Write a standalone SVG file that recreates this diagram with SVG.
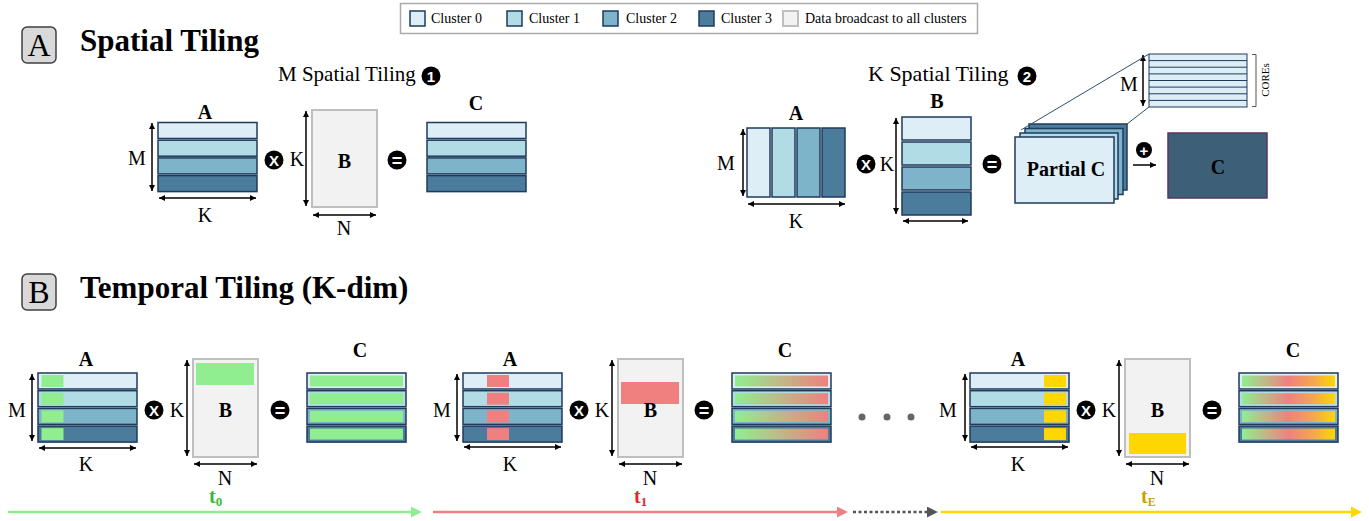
<svg xmlns="http://www.w3.org/2000/svg" width="1369" height="521" viewBox="0 0 1369 521">
<style>
text{font-family:"Liberation Serif","Times New Roman",serif;fill:#000}
.c0{fill:#deeef6}.c1{fill:#b1dbe5}.c2{fill:#7db4ca}.c3{fill:#4c7c9c}
.m{stroke:#1f3a5c;stroke-width:1.5}
.bc{fill:#f2f2f2;stroke:#bfbfbf;stroke-width:2}
.dim{stroke:#000;stroke-width:1.5;fill:none;marker-start:url(#ah);marker-end:url(#ah)}
.lbl{font-weight:bold;font-size:20px;text-anchor:middle}
.dl{font-size:20px;text-anchor:middle}
.leg{font-size:14px}
.ttl{font-weight:bold;font-size:31px}
.ico{font-family:"Liberation Sans",Arial,sans-serif;font-weight:bold;fill:#fff;text-anchor:middle}
.grn{fill:#90ee90}.red{fill:#f08080}.yel{fill:#ffd700}
</style>
<defs>
<marker id="ah" viewBox="0 0 10 10" refX="10" refY="5" markerWidth="7" markerHeight="6" markerUnits="userSpaceOnUse" orient="auto-start-reverse"><path d="M0,0 L10,5 L0,10 z" fill="#000"/></marker>
<marker id="hg" viewBox="0 0 10 10" refX="1" refY="5" markerWidth="11" markerHeight="11" markerUnits="userSpaceOnUse" orient="auto"><path d="M0,0 L10,5 L0,10 z" fill="#90ee90"/></marker>
<marker id="hr" viewBox="0 0 10 10" refX="1" refY="5" markerWidth="11" markerHeight="11" markerUnits="userSpaceOnUse" orient="auto"><path d="M0,0 L10,5 L0,10 z" fill="#f08080"/></marker>
<marker id="hk" viewBox="0 0 10 10" refX="1" refY="5" markerWidth="11" markerHeight="11" markerUnits="userSpaceOnUse" orient="auto"><path d="M0,0 L10,5 L0,10 z" fill="#555"/></marker>
<marker id="hy" viewBox="0 0 10 10" refX="1" refY="5" markerWidth="11" markerHeight="11" markerUnits="userSpaceOnUse" orient="auto"><path d="M0,0 L10,5 L0,10 z" fill="#ffd700"/></marker>
<marker id="hs" viewBox="0 0 10 10" refX="10" refY="5" markerWidth="7" markerHeight="6" markerUnits="userSpaceOnUse" orient="auto"><path d="M0,0 L10,5 L0,10 z" fill="#000"/></marker>
<linearGradient id="g2" x1="0" y1="0" x2="1" y2="0"><stop offset="0" stop-color="#90ee90"/><stop offset="1" stop-color="#f08080"/></linearGradient>
<linearGradient id="g3" x1="0" y1="0" x2="1" y2="0"><stop offset="0" stop-color="#90ee90"/><stop offset="0.5" stop-color="#f08080"/><stop offset="0.78" stop-color="#f6a84c"/><stop offset="1" stop-color="#ffd700"/></linearGradient>
</defs>
<rect width="1369" height="521" fill="#fff"/>

<!-- Legend -->
<g id="legend">
<rect x="400.5" y="3.5" width="577" height="30" fill="#fff" stroke="#aaa" stroke-width="1.5"/>
<rect x="410" y="11" width="15" height="15" class="c0 m"/><text x="431" y="23" class="leg">Cluster 0</text>
<rect x="507" y="11" width="15" height="15" class="c1 m"/><text x="529" y="23" class="leg">Cluster 1</text>
<rect x="603" y="11" width="15" height="15" class="c2 m"/><text x="626" y="23" class="leg">Cluster 2</text>
<rect x="699" y="11" width="15" height="15" class="c3 m"/><text x="721" y="23" class="leg">Cluster 3</text>
<rect x="783" y="11" width="15" height="15" class="bc" stroke-width="1.2"/><text x="805" y="23" class="leg">Data broadcast to all clusters</text>
</g>

<!-- Section A header -->
<g id="hdrA">
<rect x="22" y="27" width="34" height="36" rx="5" fill="#d9d9d9" stroke="#404040" stroke-width="1.5"/>
<text x="39" y="56" font-size="32" text-anchor="middle">A</text>
<text x="80" y="51" class="ttl">Spatial Tiling</text>
</g>

<!-- M spatial tiling -->
<g id="mTitle">
<text x="278" y="81" font-size="21">M Spatial Tiling</text>
<circle cx="431" cy="76" r="9.5"/><text x="431" y="81.5" class="ico" font-size="15">1</text>
</g>
<g id="mA">
<text x="205" y="119" class="lbl">A</text>
<rect x="158" y="122.5" width="99" height="16" class="c0 m"/>
<rect x="158" y="140.2" width="99" height="16" class="c1 m"/>
<rect x="158" y="157.9" width="99" height="16" class="c2 m"/>
<rect x="158" y="175.6" width="99" height="16" class="c3 m"/>
<text x="137" y="165" class="dl">M</text>
<text x="205" y="222" class="dl">K</text>
</g>
<g id="mX"><circle cx="274" cy="160" r="9.5"/><text x="274" y="165.5" class="ico" font-size="15">X</text></g>
<g id="mB">
<rect x="312" y="110" width="65" height="97" class="bc"/>
<text x="344.5" y="168" class="lbl">B</text>
<text x="297" y="166" class="dl">K</text>
<text x="344" y="235" class="dl">N</text>
</g>
<g id="mEq"><circle cx="397" cy="160" r="9.5"/><text x="397" y="166.5" class="ico" font-size="18">=</text></g>
<g id="mC">
<text x="476" y="110" class="lbl">C</text>
<rect x="427" y="122.5" width="99" height="16" class="c0 m"/>
<rect x="427" y="140.2" width="99" height="16" class="c1 m"/>
<rect x="427" y="157.9" width="99" height="16" class="c2 m"/>
<rect x="427" y="175.6" width="99" height="16" class="c3 m"/>
</g>

<!-- K spatial tiling -->
<g id="kTitle">
<text x="868" y="81" font-size="22">K Spatial Tiling</text>
<circle cx="1027" cy="76" r="9.5"/><text x="1027" y="81.5" class="ico" font-size="15">2</text>
</g>
<g id="kA">
<text x="796" y="120" class="lbl">A</text>
<rect x="747" y="128" width="23" height="69" class="c0 m"/>
<rect x="772" y="128" width="23" height="69" class="c1 m"/>
<rect x="797" y="128" width="23" height="69" class="c2 m"/>
<rect x="822" y="128" width="23" height="69" class="c3 m"/>
<text x="726" y="170" class="dl">M</text>
<text x="796" y="228" class="dl">K</text>
</g>
<g id="kX"><circle cx="866" cy="164" r="9.5"/><text x="866" y="169.5" class="ico" font-size="15">X</text></g>
<g id="kB">
<text x="937" y="108" class="lbl">B</text>
<rect x="902" y="117" width="69" height="23" class="c0 m"/>
<rect x="902" y="142" width="69" height="23" class="c1 m"/>
<rect x="902" y="167" width="69" height="23" class="c2 m"/>
<rect x="902" y="192" width="69" height="23" class="c3 m"/>
<text x="887" y="171" class="dl">K</text>
</g>
<g id="kEq"><circle cx="992" cy="164" r="9.5"/><text x="992" y="170.5" class="ico" font-size="18">=</text></g>
<g id="kPartial">
<rect x="1029" y="124" width="98" height="66" class="c3 m"/>
<rect x="1025" y="128.5" width="98" height="66" class="c2 m"/>
<rect x="1020" y="133" width="98" height="66" class="c1 m"/>
<rect x="1015" y="137" width="99" height="66" class="c0 m"/>
<text x="1066" y="176" class="lbl">Partial C</text>
</g>
<g id="kCores">
<rect x="1149" y="54" width="98" height="53" class="c0" stroke="#1f3a5c" stroke-width="1"/>
<path d="M1149,60.6H1247M1149,67.2H1247M1149,73.9H1247M1149,80.5H1247M1149,87.1H1247M1149,93.8H1247M1149,100.4H1247" stroke="#1f3a5c" stroke-width="1"/>
<text x="1129" y="91" class="dl">M</text>
<path d="M1252,54.5H1256V106.5H1252" fill="none" stroke="#555" stroke-width="1"/>
<text transform="translate(1269,80) rotate(-90)" font-size="11" text-anchor="middle">COREs</text>
</g>
<g id="kPlus"><circle cx="1144" cy="150" r="8"/><text x="1144" y="155.5" class="ico" font-size="15">+</text></g>
<g id="kC">
<rect x="1168" y="133" width="99" height="65" fill="#3d5f78" stroke="#5a3560" stroke-width="1.5"/>
<text x="1218" y="174" class="lbl">C</text>
</g>

<!-- Section B header -->
<g id="hdrB">
<rect x="22" y="274" width="34" height="36" rx="5" fill="#d9d9d9" stroke="#404040" stroke-width="1.5"/>
<text x="39" y="303" font-size="32" text-anchor="middle">B</text>
<text x="80" y="298" class="ttl">Temporal Tiling (K-dim)</text>
</g>

<!-- t0 -->
<g id="t0A">
<text x="86" y="366" class="lbl">A</text>
<rect x="38" y="373" width="99" height="16" class="c0 m"/>
<rect x="38" y="390.7" width="99" height="16" class="c1 m"/>
<rect x="38" y="408.4" width="99" height="16" class="c2 m"/>
<rect x="38" y="426.1" width="99" height="16" class="c3 m"/>
<rect x="41.5" y="375" width="22" height="12" class="grn"/>
<rect x="41.5" y="392.7" width="22" height="12" class="grn"/>
<rect x="41.5" y="410.4" width="22" height="12" class="grn"/>
<rect x="41.5" y="428.1" width="22" height="12" class="grn"/>
<text x="17" y="417" class="dl">M</text>
<text x="86" y="471" class="dl">K</text>
</g>
<g id="t0X"><circle cx="154" cy="410" r="9.5"/><text x="154" y="415.5" class="ico" font-size="15">X</text></g>
<g id="t0B">
<rect x="193" y="359" width="65" height="98" class="bc"/>
<rect x="196" y="363" width="58" height="22" class="grn"/>
<text x="225.5" y="417" class="lbl">B</text>
<text x="177" y="417" class="dl">K</text>
<text x="225" y="485" class="dl">N</text>
</g>
<g id="t0Eq"><circle cx="280" cy="410" r="9.5"/><text x="280" y="416.5" class="ico" font-size="18">=</text></g>
<g id="t0C">
<text x="360" y="357" class="lbl">C</text>
<rect x="307" y="373" width="99" height="16" class="c0 m"/>
<rect x="307" y="390.7" width="99" height="16" class="c1 m"/>
<rect x="307" y="408.4" width="99" height="16" class="c2 m"/>
<rect x="307" y="426.1" width="99" height="16" class="c3 m"/>
<rect x="310" y="375.5" width="93" height="11" class="grn"/>
<rect x="310" y="393.2" width="93" height="11" class="grn"/>
<rect x="310" y="410.9" width="93" height="11" class="grn"/>
<rect x="310" y="428.6" width="93" height="11" class="grn"/>
</g>

<!-- t1 -->
<g id="t1A">
<text x="510" y="366" class="lbl">A</text>
<rect x="463" y="373" width="99" height="16" class="c0 m"/>
<rect x="463" y="390.7" width="99" height="16" class="c1 m"/>
<rect x="463" y="408.4" width="99" height="16" class="c2 m"/>
<rect x="463" y="426.1" width="99" height="16" class="c3 m"/>
<rect x="487" y="375" width="22" height="12" class="red"/>
<rect x="487" y="392.7" width="22" height="12" class="red"/>
<rect x="487" y="410.4" width="22" height="12" class="red"/>
<rect x="487" y="428.1" width="22" height="12" class="red"/>
<text x="442" y="417" class="dl">M</text>
<text x="510" y="471" class="dl">K</text>
</g>
<g id="t1X"><circle cx="579" cy="410" r="9.5"/><text x="579" y="415.5" class="ico" font-size="15">X</text></g>
<g id="t1B">
<rect x="618" y="359" width="65" height="98" class="bc"/>
<rect x="621" y="382" width="58" height="22" class="red"/>
<text x="650.5" y="417" class="lbl">B</text>
<text x="602" y="417" class="dl">K</text>
<text x="650" y="485" class="dl">N</text>
</g>
<g id="t1Eq"><circle cx="704" cy="410" r="9.5"/><text x="704" y="416.5" class="ico" font-size="18">=</text></g>
<g id="t1C">
<text x="785" y="357" class="lbl">C</text>
<rect x="732" y="373" width="99" height="16" class="c0 m"/>
<rect x="732" y="390.7" width="99" height="16" class="c1 m"/>
<rect x="732" y="408.4" width="99" height="16" class="c2 m"/>
<rect x="732" y="426.1" width="99" height="16" class="c3 m"/>
<rect x="735" y="375.5" width="93" height="11" fill="url(#g2)"/>
<rect x="735" y="393.2" width="93" height="11" fill="url(#g2)"/>
<rect x="735" y="410.9" width="93" height="11" fill="url(#g2)"/>
<rect x="735" y="428.6" width="93" height="11" fill="url(#g2)"/>
</g>

<g id="ellipsis" fill="#666">
<circle cx="862" cy="417" r="3.5"/><circle cx="887" cy="417" r="3.5"/><circle cx="911" cy="417" r="3.5"/>
</g>

<!-- tE -->
<g id="tEA">
<text x="1018" y="366" class="lbl">A</text>
<rect x="970" y="373" width="99" height="16" class="c0 m"/>
<rect x="970" y="390.7" width="99" height="16" class="c1 m"/>
<rect x="970" y="408.4" width="99" height="16" class="c2 m"/>
<rect x="970" y="426.1" width="99" height="16" class="c3 m"/>
<rect x="1044" y="375" width="22" height="12" class="yel"/>
<rect x="1044" y="392.7" width="22" height="12" class="yel"/>
<rect x="1044" y="410.4" width="22" height="12" class="yel"/>
<rect x="1044" y="428.1" width="22" height="12" class="yel"/>
<text x="948" y="417" class="dl">M</text>
<text x="1018" y="471" class="dl">K</text>
</g>
<g id="tEX"><circle cx="1086" cy="410" r="9.5"/><text x="1086" y="415.5" class="ico" font-size="15">X</text></g>
<g id="tEB">
<rect x="1125" y="359" width="65" height="98" class="bc"/>
<rect x="1129" y="433" width="57" height="21" class="yel"/>
<text x="1157.5" y="417" class="lbl">B</text>
<text x="1109" y="417" class="dl">K</text>
<text x="1157" y="485" class="dl">N</text>
</g>
<g id="tEEq"><circle cx="1212" cy="410" r="9.5"/><text x="1212" y="416.5" class="ico" font-size="18">=</text></g>
<g id="tEC">
<text x="1293" y="357" class="lbl">C</text>
<rect x="1239" y="373" width="99" height="16" class="c0 m"/>
<rect x="1239" y="390.7" width="99" height="16" class="c1 m"/>
<rect x="1239" y="408.4" width="99" height="16" class="c2 m"/>
<rect x="1239" y="426.1" width="99" height="16" class="c3 m"/>
<rect x="1242" y="375.5" width="93" height="11" fill="url(#g3)"/>
<rect x="1242" y="393.2" width="93" height="11" fill="url(#g3)"/>
<rect x="1242" y="410.9" width="93" height="11" fill="url(#g3)"/>
<rect x="1242" y="428.6" width="93" height="11" fill="url(#g3)"/>
</g>

<!-- Timeline labels -->
<g id="labels" font-weight="bold">
<text x="209" y="503" font-size="20" style="fill:#3cb83c">t<tspan font-size="13" dy="3" style="fill:#3cb83c">0</tspan></text>
<text x="634" y="503" font-size="20" style="fill:#e3262b">t<tspan font-size="13" dy="3" style="fill:#e3262b">1</tspan></text>
<text x="1141" y="503" font-size="20" style="fill:#c9a400">t<tspan font-size="12" dy="3" style="fill:#c9a400">E</tspan></text>
</g>

<!-- Connectors -->
<g id="connectors">
<line x1="152" y1="123" x2="152" y2="191" class="dim"/>
<line x1="159" y1="198" x2="256" y2="198" class="dim"/>
<line x1="306" y1="111" x2="306" y2="206" class="dim"/>
<line x1="313" y1="215" x2="376" y2="215" class="dim"/>

<line x1="743" y1="129" x2="743" y2="196" class="dim"/>
<line x1="748" y1="204" x2="845" y2="204" class="dim"/>
<line x1="896" y1="118" x2="896" y2="214" class="dim"/>
<line x1="903" y1="221" x2="968" y2="221" class="dim"/>
<line x1="1143" y1="55" x2="1143" y2="106" class="dim"/>
<line x1="1021" y1="130" x2="1149" y2="54" stroke="#2f4f6f" stroke-width="1"/>
<line x1="1127" y1="124" x2="1149" y2="107" stroke="#2f4f6f" stroke-width="1"/>
<line x1="1133" y1="165" x2="1156" y2="165" stroke="#000" stroke-width="1.5" marker-end="url(#hs)"/>

<line x1="32" y1="374" x2="32" y2="441" class="dim"/>
<line x1="39" y1="448" x2="136" y2="448" class="dim"/>
<line x1="187" y1="360" x2="187" y2="456" class="dim"/>
<line x1="194" y1="464" x2="257" y2="464" class="dim"/>

<line x1="457" y1="374" x2="457" y2="441" class="dim"/>
<line x1="464" y1="447" x2="561" y2="447" class="dim"/>
<line x1="612" y1="360" x2="612" y2="456" class="dim"/>
<line x1="619" y1="464" x2="682" y2="464" class="dim"/>

<line x1="965" y1="374" x2="965" y2="441" class="dim"/>
<line x1="971" y1="447" x2="1068" y2="447" class="dim"/>
<line x1="1119" y1="360" x2="1119" y2="456" class="dim"/>
<line x1="1126" y1="464" x2="1189" y2="464" class="dim"/>

<line x1="8" y1="512" x2="412" y2="512" stroke="#90ee90" stroke-width="2.5" marker-end="url(#hg)"/>
<line x1="433" y1="512" x2="838" y2="512" stroke="#f08080" stroke-width="2.5" marker-end="url(#hr)"/>
<line x1="853" y1="512" x2="928" y2="512" stroke="#555" stroke-width="2.5" stroke-dasharray="3 2.5" marker-end="url(#hk)"/>
<line x1="941" y1="512" x2="1352" y2="512" stroke="#ffd700" stroke-width="2.5" marker-end="url(#hy)"/>
</g>
</svg>
